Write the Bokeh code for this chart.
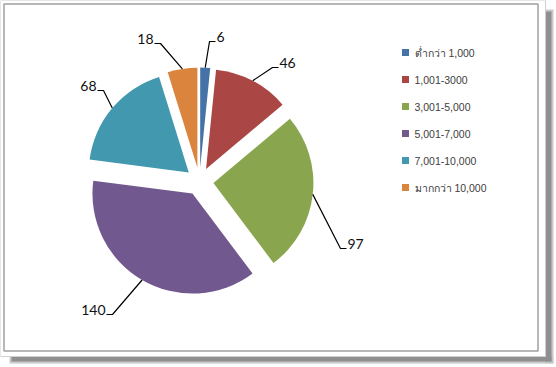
import numpy as np
from bokeh.plotting import figure
from bokeh.models import Range1d, ColumnDataSource
from bokeh.embed import file_html
from bokeh.resources import INLINE
from bokeh.core.properties import value

# ---- data ----
categories = ["ต่ำกว่า 1,000", "1,001-3000", "3,001-5,000", "5,001-7,000", "7,001-10,000", "มากกว่า 10,000"]
counts = [6, 46, 97, 140, 68, 18]
colors = ["#4572A7", "#AA4643", "#89A54E", "#71588F", "#4198AF", "#DB843D"]

# ---- layout (page pixels, y down) ----
W, H = 556, 367
CX, CY = 199, 181          # pie centre
R = 100                    # pie radius
EXPLODE = 14               # explosion distance
# leader-line elbows and which side the label sits on
elbows = [(209, 41), (272, 67), (340, 248), (112, 314), (103, 90), (160, 43)]
sides = [1, 1, 1, -1, -1, -1]
LEG_X, LEG_Y0, LEG_STEP = 405, 52, 27


def fy(y):
    return H - y


p = figure(width=W, height=H, x_range=Range1d(0, W), y_range=Range1d(0, H),
           output_backend="svg", toolbar_location=None, min_border=0,
           outline_line_color=None, background_fill_color="white",
           border_fill_color="white")
p.axis.visible = False
p.xgrid.visible = False
p.ygrid.visible = False

# ---- frame with shadow ----
p.quad(left=[544], right=[553], bottom=[fy(363)], top=[fy(9)], fill_color="#c8c8c8", line_color=None)
p.quad(left=[9], right=[553], bottom=[fy(363)], top=[fy(355)], fill_color="#c8c8c8", line_color=None)
p.quad(left=[545], right=[551], bottom=[fy(361)], top=[fy(11)], fill_color="#8f8f8f", line_color=None)
p.quad(left=[11], right=[551], bottom=[fy(361)], top=[fy(356)], fill_color="#8f8f8f", line_color=None)
p.quad(left=[0], right=[545], bottom=[fy(356)], top=[fy(0)], fill_color="white", line_color="#d0d0d0", line_width=1)
p.quad(left=[3.5], right=[537.5], bottom=[fy(350.5)], top=[fy(3.5)], fill_color=None,
       line_color="#a0a0a0", line_width=1.5)

# ---- pie ----
vals = np.array(counts, dtype=float)
total = vals.sum()
ends = np.cumsum(vals) / total * 2 * np.pi
starts = ends - vals / total * 2 * np.pi
mids = (starts + ends) / 2
cx = CX + EXPLODE * np.sin(mids)
cy = fy(CY) + EXPLODE * np.cos(mids)

src = ColumnDataSource(dict(x=cx, y=cy, sa=np.pi / 2 - ends, ea=np.pi / 2 - starts,
                            color=colors, cat=categories))
p.wedge(x="x", y="y", radius=R, start_angle="sa", end_angle="ea", direction="anticlock",
        fill_color="color", line_color=None, source=src)

# ---- leader lines and labels ----
lx, ly, tx, ty, txt, al = [], [], [], [], [], []
for i, v in enumerate(counts):
    sx = cx[i] + R * np.sin(mids[i])
    sy = cy[i] + R * np.cos(mids[i])
    ex, ey = elbows[i]
    hx = ex + 6 * sides[i]
    lx.append([sx, ex, hx])
    ly.append([sy, fy(ey), fy(ey)])
    tx.append(hx + 1 * sides[i])
    ty.append(fy(ey) + 5)
    txt.append(str(v))
    al.append("left" if sides[i] > 0 else "right")

p.multi_line(xs=lx, ys=ly, line_color="black", line_width=1.2)
p.text(x=tx, y=ty, text=txt, text_align=al, text_baseline="middle",
       text_font=value("Lato"), text_font_size="14px", text_color="#111111")

# ---- legend ----
n = len(categories)
leg_y = [fy(LEG_Y0 + i * LEG_STEP) for i in range(n)]
p.rect(x=[LEG_X] * n, y=leg_y, width=7, height=7, fill_color=colors, line_color=None)
p.text(x=[LEG_X + 9] * n, y=leg_y, text=categories, text_baseline="middle",
       text_font=value("Liberation Sans"), text_font_size="10.5px", text_color="#404040")

open("out.html", "w").write(file_html(p, INLINE))
